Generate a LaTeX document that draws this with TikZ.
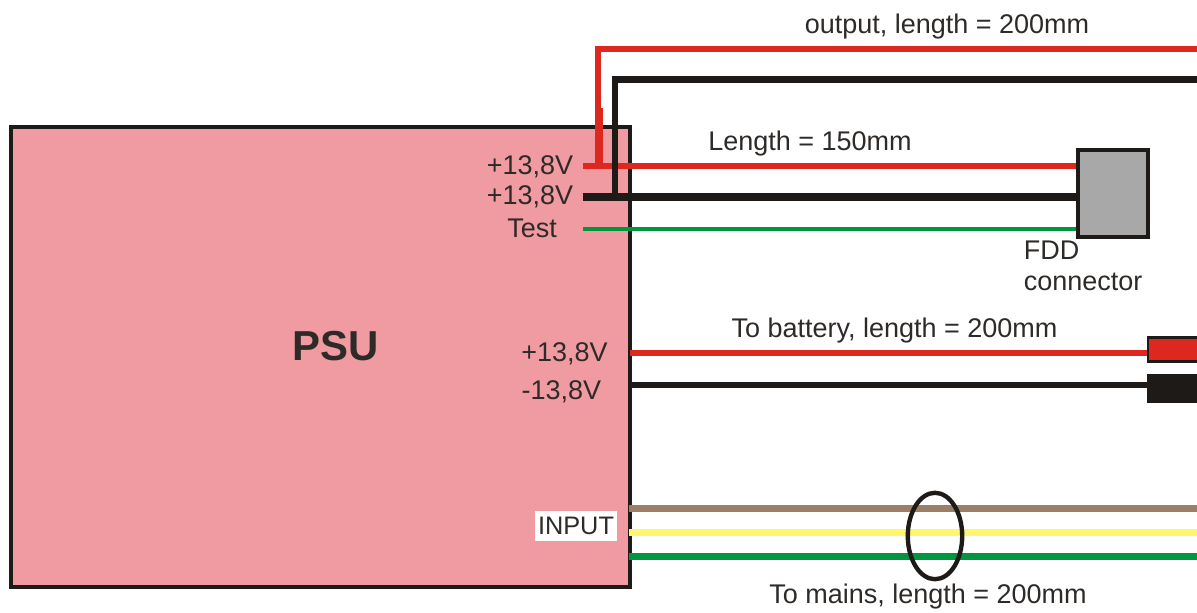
\documentclass[tikz,border=0pt]{standalone}
\usepackage{fontspec}
\setmainfont{Liberation Sans}
\usetikzlibrary{shapes.geometric}
\definecolor{psupink}{HTML}{F09AA1}
\definecolor{wirered}{HTML}{DC281E}
\definecolor{wireblack}{HTML}{1E1A18}
\definecolor{wiregreen}{HTML}{00963F}
\definecolor{wirebrown}{HTML}{9B7F66}
\definecolor{wireyellow}{HTML}{FFF66E}
\definecolor{plugrey}{HTML}{A8A8A8}
\definecolor{labelgrey}{HTML}{2E2A28}
\tikzset{
	label/.style={text=labelgrey,inner sep=0pt,font=\fontsize{19.2}{23}\selectfont},
	redwire/.style={draw=wirered,line width=4.4pt},
	blackwire/.style={draw=wireblack,line width=5.6pt},
	thinblack/.style={draw=wireblack,line width=4.6pt},
	mainswire/.style={line width=4.8pt}
}
\begin{document}
\begin{tikzpicture}[x=0.25mm,y=-0.25mm]
	\clip (0,0) rectangle (1197,613);
	\useasboundingbox (0,0) rectangle (1197,613);
	% boxes
	\node (psu) [draw=wireblack,fill=psupink,line width=2.2pt,minimum width=15.475cm,minimum height=11.5cm,inner sep=0pt] at (320.5,357) {};
	\node (fdd) [draw=wireblack,fill=plugrey,line width=2.8pt,minimum width=1.74cm,minimum height=2.16cm,inner sep=0pt] at (1113,193.5) {};
	\node (plugred) [draw=wireblack,fill=wirered,line width=1.6pt,minimum width=1.45cm,minimum height=0.6cm,inner sep=0pt,anchor=west] at (1147,349.5) {};
	\node (plugblack) [draw=wireblack,fill=wireblack,line width=1.6pt,minimum width=1.45cm,minimum height=0.66cm,inner sep=0pt,anchor=west] at (1147,388.5) {};
	% wire ends
	\coordinate (startred) at (583,165.7);
	\coordinate (startblack) at (583,197);
	\coordinate (starttest) at (583,229);
	\coordinate (batred) at (630,352.7);
	\coordinate (batblack) at (630,385);
	\coordinate (outred) at (1197,49);
	\coordinate (cornerred) at (598,49);
	\coordinate (kinkred) at (598,108);
	\coordinate (kinklow) at (599,108);
	\coordinate (footred) at (599,165.7);
	\coordinate (outblack) at (1197,79.5);
	\coordinate (cornerblack) at (615,79.5);
	\coordinate (footblack) at (615,197);
	\coordinate (brownL) at (629,508.7);
	\coordinate (brownR) at (1197,508.7);
	\coordinate (yellowL) at (629,532.7);
	\coordinate (yellowR) at (1197,532.7);
	\coordinate (greenL) at (629,556.7);
	\coordinate (greenR) at (1197,556.7);
	% wires
	\draw [draw=wiregreen,line width=2.2pt] (starttest) -- (starttest-|fdd.west);
	\draw [redwire] (startred) -- (startred-|fdd.west);
	\draw [redwire,line cap=butt] (outred) -- (cornerred) -- (kinkred);
	\draw [draw=wirered,line width=5.6pt] (kinklow) -- (footred);
	\draw [thinblack] (outblack) -- (cornerblack) -- (footblack);
	\draw [blackwire] (startblack) -- (startblack-|fdd.west);
	\draw [redwire] (batred) -- (batred-|plugred.west);
	\draw [thinblack] (batblack) -- (batblack-|plugblack.west);
	\draw [mainswire,draw=wirebrown] (brownL) -- (brownR);
	\draw [mainswire,draw=wireyellow] (yellowL) -- (yellowR);
	\draw [mainswire,draw=wiregreen] (greenL) -- (greenR);
	\node (ring) [draw=wireblack,ellipse,line width=3.1pt,minimum width=1.36cm,minimum height=2.16cm,inner sep=0pt] at (935,536) {};
	% labels
	\node (psutext) [text=labelgrey,inner sep=0pt,font=\fontsize{29.8}{34}\selectfont\bfseries] at (336,346) {PSU};
	\node (outtext) [label] at (947,27) {output, length = 200mm};
	\node (lentext) [label] at (810,144) {Length = 150mm};
	\node (pos1) [label,anchor=east] at (573.5,167) {+13,8V};
	\node (pos2) [label,anchor=east] at (573.5,197) {+13,8V};
	\node (test) [label] at (532,228) {Test};
	\node (fddtext) [label,anchor=west] at (1023.5,250) {FDD};
	\node (context) [label,anchor=west] at (1023.5,282) {connector};
	\node (battext) [label] at (894.5,331) {To battery, length = 200mm};
	\node (pos3) [label,anchor=east] at (608,354) {+13,8V};
	\node (neg) [label,anchor=east] at (601.5,392) {-13,8V};
	\node (input) [fill=white,text=labelgrey,inner sep=0pt,minimum width=2.05cm,minimum height=0.75cm,font=\fontsize{18}{21}\selectfont] at (576,526) {INPUT};
	\node (mains) [label] at (928,597) {To mains, length = 200mm};
\end{tikzpicture}
\end{document}
